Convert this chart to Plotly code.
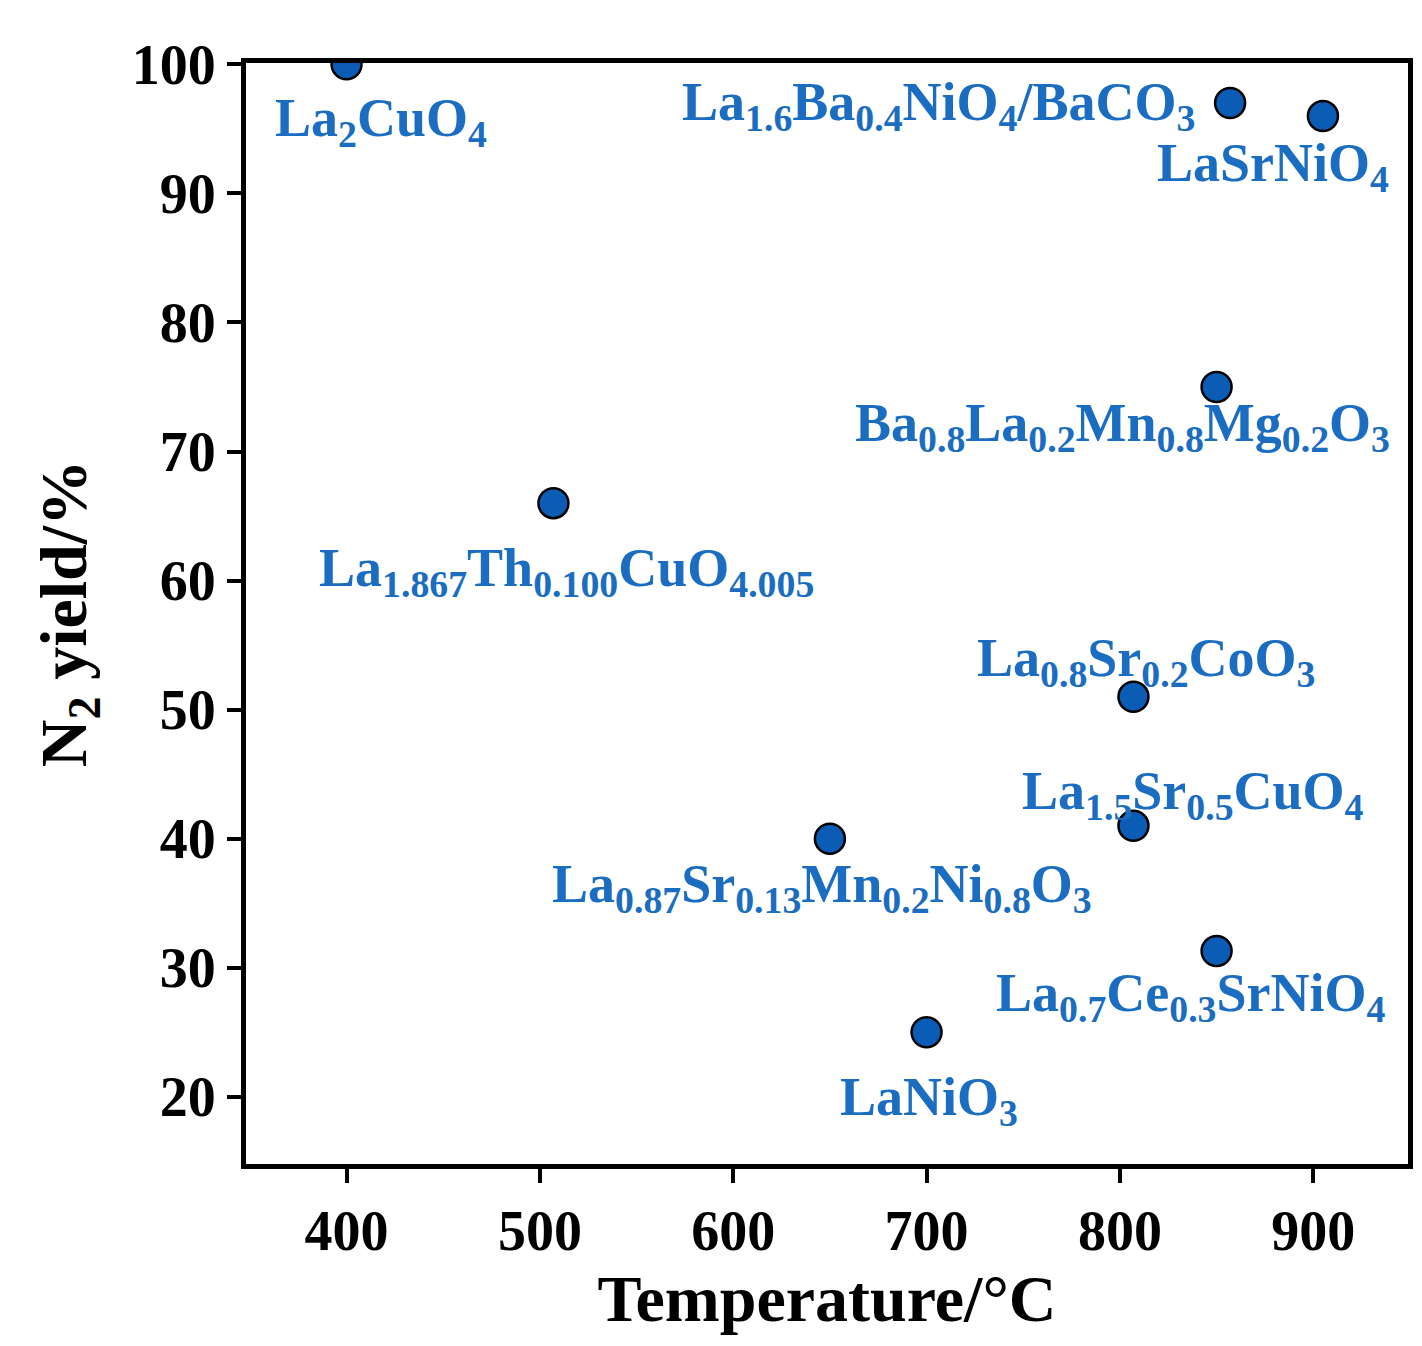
import plotly.graph_objects as go

temps = [400, 507, 650, 700, 807, 807, 850, 850, 857, 905]
yields = [100, 66, 40, 25, 51, 41, 31.3, 75, 97, 96]

labels = ["La<sub>2</sub>CuO<sub>4</sub>",
          "La<sub>1.867</sub>Th<sub>0.100</sub>CuO<sub>4.005</sub>",
          "La<sub>0.87</sub>Sr<sub>0.13</sub>Mn<sub>0.2</sub>Ni<sub>0.8</sub>O<sub>3</sub>",
          "LaNiO<sub>3</sub>",
          "La<sub>0.8</sub>Sr<sub>0.2</sub>CoO<sub>3</sub>",
          "La<sub>1.5</sub>Sr<sub>0.5</sub>CuO<sub>4</sub>",
          "La<sub>0.7</sub>Ce<sub>0.3</sub>SrNiO<sub>4</sub>",
          "Ba<sub>0.8</sub>La<sub>0.2</sub>Mn<sub>0.8</sub>Mg<sub>0.2</sub>O<sub>3</sub>",
          "La<sub>1.6</sub>Ba<sub>0.4</sub>NiO<sub>4</sub>/BaCO<sub>3</sub>",
          "LaSrNiO<sub>4</sub>"]
label_x = [418, 514, 646, 701.5, 813.5, 838, 837, 801.5, 706, 879]
label_y = [95.6, 60.7, 36.2, 19.7, 53.7, 43.4, 27.8, 71.9, 96.8, 92.1]

fig = go.Figure()
fig.add_trace(go.Scatter(x=temps, y=yields, mode="markers",
                         marker=dict(size=30, color="#0a5cb5", line=dict(color="black", width=2.5))))

for t, lx, ly in zip(labels, label_x, label_y):
    fig.add_annotation(x=lx, y=ly, text="<b>" + t + "</b>", showarrow=False,
                       font=dict(family="Liberation Serif", size=54, color="#1a6dc0"))

tick_font = dict(family="Liberation Serif", size=56, color="black", weight="bold")
axis_common = dict(showline=True, linecolor="black", linewidth=5, mirror=True,
                   showgrid=False, zeroline=False, ticks="outside", ticklen=14,
                   tickwidth=4, tickcolor="black", tickfont=tick_font)

fig.update_xaxes(range=[348, 949], tickvals=[400, 500, 600, 700, 800, 900],
                 title=dict(text="<b>Temperature/°C</b>", standoff=15,
                            font=dict(family="Liberation Serif", size=66, color="black")),
                 **axis_common)
fig.update_yaxes(range=[14.8, 100.1], tickvals=[20, 30, 40, 50, 60, 70, 80, 90, 100],
                 title=dict(text="<b>N<sub>2</sub> yield/%</b>", standoff=25,
                            font=dict(family="Liberation Serif", size=66, color="black")),
                 **axis_common)
fig.update_layout(width=1422, height=1346, showlegend=False,
                  plot_bgcolor="white", paper_bgcolor="white",
                  margin=dict(l=238, r=22, t=55, b=190),
                  font=dict(family="Liberation Serif"))

fig.write_html("out.html")
